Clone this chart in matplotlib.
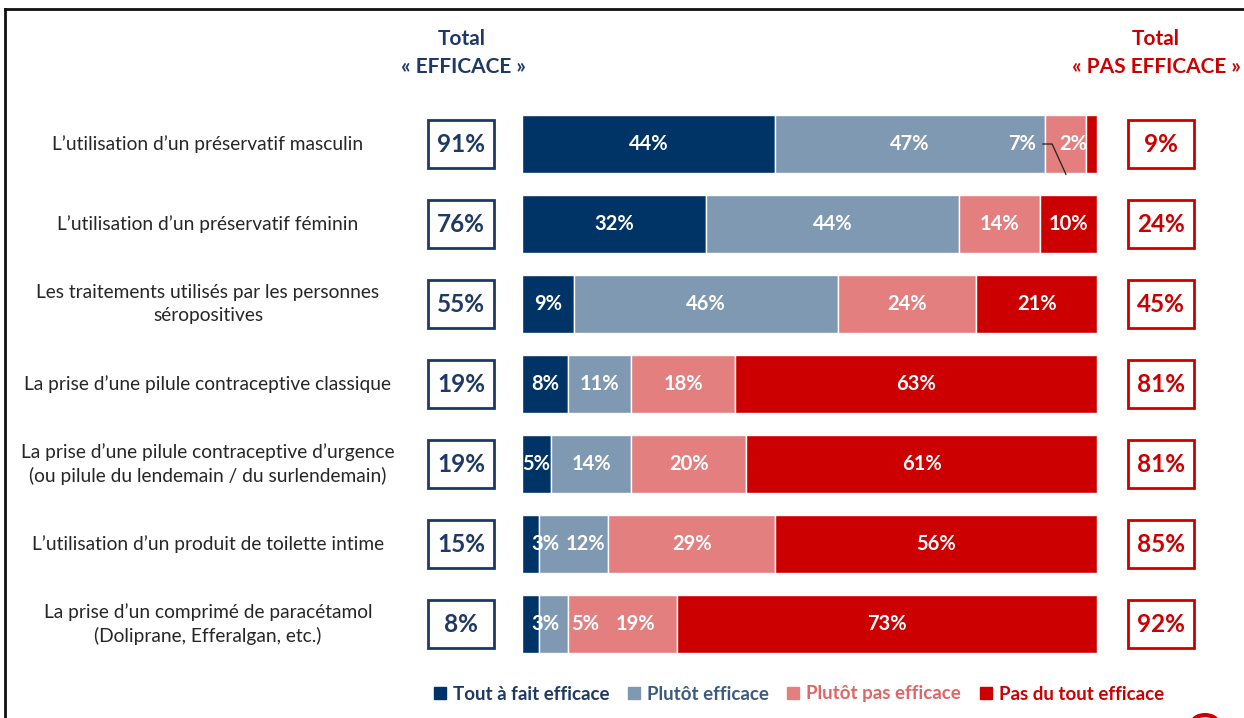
import matplotlib
matplotlib.use('Agg')
import matplotlib.pyplot as plt
import matplotlib.transforms as mtransforms
from matplotlib.patches import Rectangle, Circle
from matplotlib.lines import Line2D

plt.rcParams['font.family'] = ['Lato', 'DejaVu Sans']

# data
categories = [
    "L\u2019utilisation d\u2019un préservatif masculin",
    "L\u2019utilisation d\u2019un préservatif féminin",
    "Les traitements utilisés par les personnes\nséropositives",
    "La prise d\u2019une pilule contraceptive classique",
    "La prise d\u2019une pilule contraceptive d\u2019urgence\n(ou pilule du lendemain / du surlendemain)",
    "L\u2019utilisation d\u2019un produit de toilette intime",
    "La prise d\u2019un comprimé de paracétamol\n(Doliprane, Efferalgan, etc.)",
]
tout_a_fait = [44, 32, 9, 8, 5, 3, 3]
plutot = [47, 44, 46, 11, 14, 12, 5]
plutot_pas = [7, 14, 24, 18, 20, 29, 19]
pas_du_tout = [2, 10, 21, 63, 61, 56, 73]
total_efficace = [91, 76, 55, 19, 19, 15, 8]
total_pas_efficace = [9, 24, 45, 81, 81, 85, 92]
series_names = ["Tout à fait efficace", "Plutôt efficace", "Plutôt pas efficace", "Pas du tout efficace"]

colors = ['#003366', '#7f99b2', '#e47f7f', '#cc0000']
navy = '#1f3864'
red = '#cc0000'

# manual label nudges for crowded small segments (row, segment) -> shift in %
nudge = {(0, 2): -7.5, (0, 3): -3.2, (5, 0): 2.6, (5, 1): 2.0,
         (6, 0): 2.5, (6, 1): 5.5, (6, 2): 2.2}

W, H = 1244, 718
fig = plt.figure(figsize=(W / 100, H / 100), dpi=100)
ax = fig.add_axes([522 / W, 1 - 664 / H, (1097 - 522) / W, 560 / H])

series = [tout_a_fait, plutot, plutot_pas, pas_du_tout]
n = len(categories)
left = [0] * n
for s, vals in enumerate(series):
    ax.barh(range(n), vals, left=left, height=0.72, color=colors[s],
            edgecolor='white', linewidth=1.0, label=series_names[s])
    for i, v in enumerate(vals):
        xc = left[i] + v / 2 + nudge.get((i, s), 0)
        ax.text(xc, i, f"{v}%", ha='center', va='center', color='white',
                fontsize=14.5, fontweight='bold')
    left = [l + v for l, v in zip(left, vals)]

# leader line for the tiny segment in row 1
ax.plot([90.6, 92.2, 94.6], [0.0, 0.0, 0.38], color='#222222', lw=0.9,
        clip_on=False)

ax.set_xlim(0, 100)
ax.set_ylim(n - 0.5, -0.5)
ax.axis('off')

# x in figure fraction, y in data rows
tr = mtransforms.blended_transform_factory(fig.transFigure, ax.transData)
for i in range(n):
    ax.text(208 / W, i, categories[i], transform=tr, ha='center', va='center',
            fontsize=13.8, color='#262626', linespacing=1.4)
    for x0, col, val in [(428, navy, total_efficace[i]), (1128, red, total_pas_efficace[i])]:
        ax.add_patch(Rectangle((x0 / W, i - 0.305), 66 / W, 0.61, transform=tr,
                               fill=False, edgecolor=col, lw=2.0, clip_on=False))
        ax.text((x0 + 33) / W, i, f"{val}%", transform=tr, ha='center',
                va='center', fontsize=17.5, fontweight='bold', color=col)

# headers
fig.text(462 / W, 1 - 39 / H, "Total", ha='center', va='center',
         fontsize=15, fontweight='bold', color=navy)
fig.text(463 / W, 1 - 67 / H, "« EFFICACE »", ha='center', va='center',
         fontsize=15, fontweight='bold', color=navy)
fig.text(1156 / W, 1 - 39 / H, "Total", ha='center', va='center',
         fontsize=15, fontweight='bold', color=red)
fig.text(1156 / W, 1 - 67 / H, "« PAS EFFICACE »", ha='center', va='center',
         fontsize=15, fontweight='bold', color=red)

# legend
handles = [Line2D([], [], marker='s', ls='', color=c, markersize=8) for c in colors]
leg = fig.legend(handles, series_names, loc='center', ncol=4,
                 bbox_to_anchor=(799 / W, 1 - 694 / H), frameon=False,
                 handlelength=0.6, handletextpad=0.4, columnspacing=1.0,
                 prop={'size': 13.5, 'weight': 'bold'})
for txt, c in zip(leg.get_texts(), [navy, '#3d5a80', '#e06666', red]):
    txt.set_color(c)

# slide frame and logo fragment
fig.add_artist(Line2D([5 / W, 1], [1 - 9 / H, 1 - 9 / H], color='#111111', lw=2,
                      transform=fig.transFigure))
fig.add_artist(Line2D([5 / W, 5 / W], [0, 1 - 9 / H], color='#111111', lw=2,
                      transform=fig.transFigure))
fig.add_artist(Circle((1205 / W, 1 - 722 / H), 12 / W, transform=fig.transFigure,
                      fill=False, edgecolor=red, lw=3))

fig.savefig('out.png', dpi=100)
